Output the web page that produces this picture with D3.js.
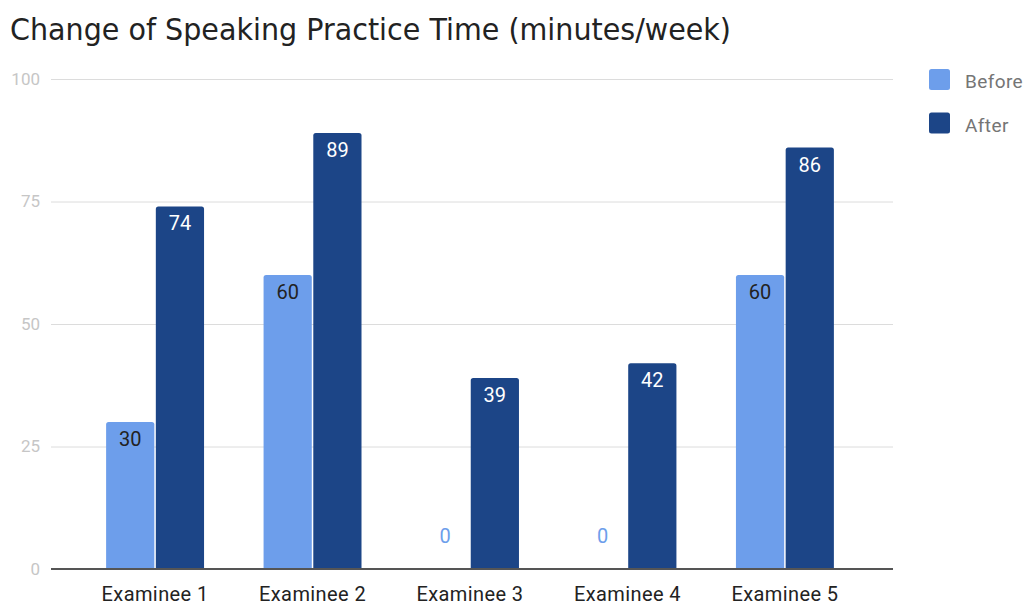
<!DOCTYPE html>
<html>
<head>
<meta charset="utf-8">
<script src="https://cdn.jsdelivr.net/npm/d3@7"></script>
<style>
  html, body { margin: 0; padding: 0; background: #ffffff; }
  svg { display: block; }
</style>
</head>
<body>
<svg id="chart" width="1027" height="606"></svg>
<script>
// Chart data
const categories = ["Examinee 1", "Examinee 2", "Examinee 3", "Examinee 4", "Examinee 5"];
const seriesNames = ["Before", "After"];
const beforeValues = [30, 60, 0, 0, 60];
const afterValues = [74, 89, 39, 42, 86];
const yTicks = [0, 25, 50, 75, 100];
const seriesColors = ["#6d9eeb", "#1c4587"];
const labelColors = ["#222222", "#ffffff"];

const svg = d3.select("#chart");
const W = 1027, H = 606;

svg.append("rect").attr("width", W).attr("height", H).attr("fill", "#ffffff");

// Plot area
const plotLeft = 51, plotRight = 893, plotTop = 79, plotBottom = 569;

const y = d3.scaleLinear().domain([0, 100]).range([plotBottom, plotTop]);
const x = d3.scaleBand()
  .domain(categories)
  .range([plotLeft, plotRight - 4])
  .paddingInner(0.378)
  .paddingOuter(0.35);
const xs = d3.scaleBand()
  .domain(seriesNames)
  .range([0, x.bandwidth()])
  .paddingInner(0.03);

// Title
svg.append("text")
  .attr("x", 10).attr("y", 40)
  .attr("font-family", "'DejaVu Sans', Verdana, sans-serif")
  .attr("font-size", 30)
  .attr("textLength", 721)
  .attr("lengthAdjust", "spacingAndGlyphs")
  .attr("fill", "#222222")
  .text("Change of Speaking Practice Time (minutes/week)");

// Gridlines and y tick labels
const yAxis = d3.axisLeft(y).tickValues(yTicks).tickSize(-(plotRight - plotLeft)).tickPadding(11);
const gy = svg.append("g").attr("transform", `translate(${plotLeft},0)`).call(yAxis);
gy.select(".domain").remove();
gy.selectAll(".tick line").attr("stroke", "#dcdcdc").attr("stroke-width", 1);
gy.selectAll(".tick text")
  .attr("font-family", "Roboto, sans-serif")
  .attr("font-size", 17)
  .attr("fill", "#c6c6c6");
gy.selectAll(".tick").filter(d => d === 0).select("line").attr("stroke", "none");

// Bars
const rows = categories.map((c, i) => ({ cat: c, vals: [beforeValues[i], afterValues[i]] }));

function barPath(x0, y0, w, h, r) {
  if (h <= 0) return "";
  r = Math.min(r, h, w / 2);
  return `M${x0},${y0 + h}V${y0 + r}Q${x0},${y0} ${x0 + r},${y0}H${x0 + w - r}Q${x0 + w},${y0} ${x0 + w},${y0 + r}V${y0 + h}Z`;
}

const groups = svg.append("g").selectAll("g")
  .data(rows).join("g")
  .attr("transform", d => `translate(${x(d.cat)},0)`);

groups.selectAll("path")
  .data(d => d.vals.map((v, k) => ({ v, k })))
  .join("path")
  .attr("d", d => barPath(xs(seriesNames[d.k]), y(d.v), xs.bandwidth(), y(0) - y(d.v), 2.5))
  .attr("fill", d => seriesColors[d.k]);

// Value labels
groups.selectAll("text")
  .data(d => d.vals.map((v, k) => ({ v, k })))
  .join("text")
  .attr("x", d => xs(seriesNames[d.k]) + xs.bandwidth() / 2)
  .attr("y", d => d.v === 0 ? y(0) - 26 : y(d.v) + 24)
  .attr("text-anchor", "middle")
  .attr("font-family", "Roboto, sans-serif")
  .attr("font-size", 20)
  .attr("fill", d => d.v === 0 ? seriesColors[d.k] : labelColors[d.k])
  .text(d => d.v);

// Baseline
svg.append("line")
  .attr("x1", plotLeft).attr("x2", plotRight)
  .attr("y1", y(0)).attr("y2", y(0))
  .attr("stroke", "#555555").attr("stroke-width", 2);

// X axis labels
const xAxis = d3.axisBottom(x).tickSize(0);
const gx = svg.append("g").attr("transform", `translate(0,${plotBottom})`).call(xAxis);
gx.select(".domain").remove();
gx.selectAll(".tick text")
  .attr("y", 32).attr("dy", null)
  .attr("font-family", "Roboto, sans-serif")
  .attr("font-size", 20)
  .attr("letter-spacing", 0.4)
  .attr("fill", "#222222");

// Legend
const legend = svg.append("g").selectAll("g")
  .data(seriesNames).join("g")
  .attr("transform", (d, i) => `translate(929,${69 + i * 43.5})`);
legend.append("rect")
  .attr("width", 21).attr("height", 21).attr("rx", 2.5)
  .attr("fill", (d, i) => seriesColors[i]);
legend.append("text")
  .attr("x", 36).attr("y", 19)
  .attr("font-family", "Roboto, sans-serif")
  .attr("font-size", 19)
  .attr("letter-spacing", 0.4)
  .attr("fill", "#757575")
  .text(d => d);
</script>
</body>
</html>
